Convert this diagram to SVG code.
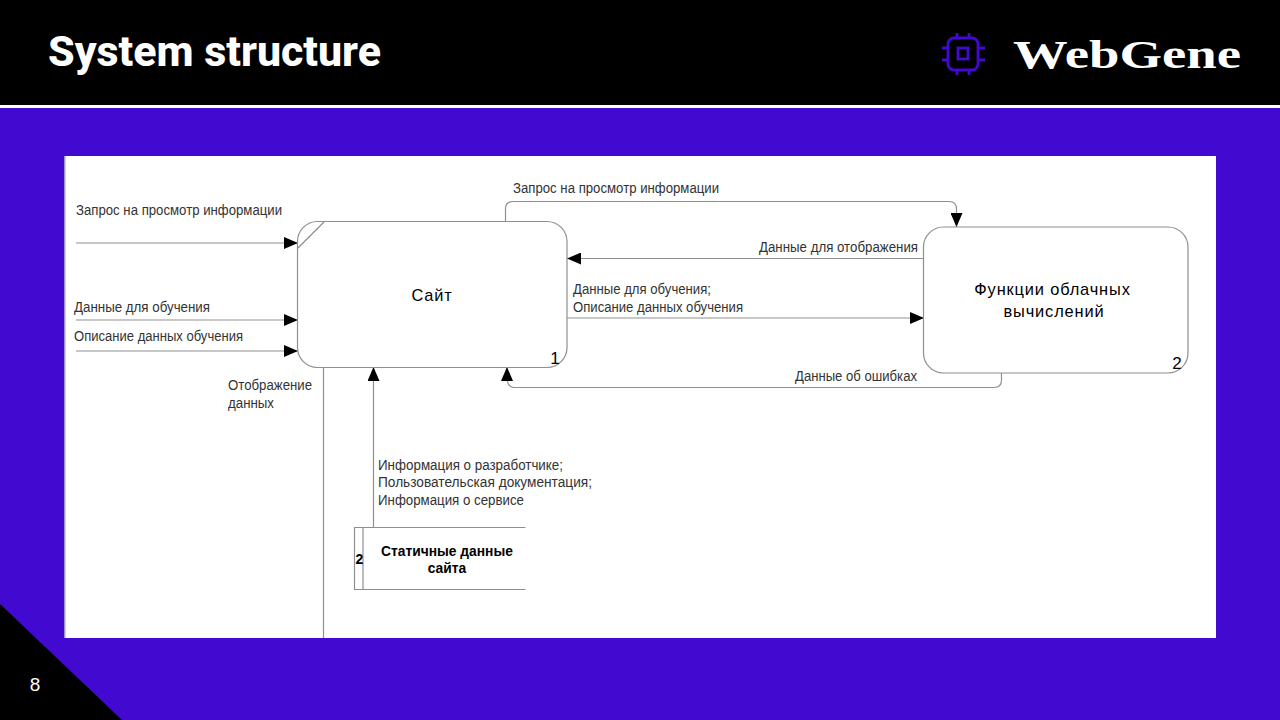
<svg xmlns="http://www.w3.org/2000/svg" width="1280" height="720" viewBox="0 0 1280 720">
<defs>
<marker id="arr" markerUnits="userSpaceOnUse" markerWidth="14" markerHeight="12" refX="14" refY="6" orient="auto"><path d="M0 0L14 6L0 12Z" fill="#000"/></marker>
</defs>
<style>
.l{font-family:"Liberation Sans",Arial,sans-serif;font-size:14px;fill:#333}
.n{font-family:"Liberation Sans",Arial,sans-serif;font-size:16.4px;fill:#000;letter-spacing:.85px;text-anchor:middle}
.c{fill:none;stroke:#8f8f8f;stroke-width:1.2}
.a{marker-end:url(#arr)}
.box{fill:#fff;stroke:#8f8f8f;stroke-width:1.2}
</style>
<rect width="1280" height="720" fill="#4209d0"/>
<g id="header">
<rect width="1280" height="105" fill="#000"/>
<rect y="105" width="1280" height="3" fill="#fff"/>
<text x="48" y="66" font-family="Roboto,sans-serif" font-weight="800" font-size="42.500" textLength="333" lengthAdjust="spacingAndGlyphs" fill="#fff">System structure</text>
<g id="logo-icon" fill="none" stroke="#4209d0" stroke-width="2.800">
<rect x="948" y="38" width="30" height="32" rx="6"/>
<rect x="958" y="48" width="10" height="11"/>
<path d="M957 33V38M969 33V38M957 70V75M969 70V75M942 48H948M942 60H948M978 48H985M978 60H985"/>
</g>
<text x="1013" y="68" font-family="'Liberation Serif',serif" font-weight="700" font-size="41" textLength="228" lengthAdjust="spacingAndGlyphs" fill="#fff">WebGene</text>
</g>
<path id="corner" d="M0 604L122 720H0Z" fill="#000"/>
<text x="35" y="691" font-family="'Liberation Sans',sans-serif" font-size="19" fill="#fff" text-anchor="middle">8</text>
<rect id="canvas" x="64.500" y="156" width="1151.500" height="482" fill="#fff"/>
<path d="M65 156V638" stroke="#a0a0a0" fill="none"/>
<g id="connectors">
<path class="c a" d="M76 243H298"/>
<path class="c a" d="M76 320H298"/>
<path class="c a" d="M76 351H298"/>
<path class="c" d="M323.500 367V638"/>
<path class="c a" d="M373.500 527V367"/>
<path class="c a" d="M505.500 222V209Q505.500 201.500 513 201.500H949Q956.500 201.500 956.500 209V227"/>
<path class="c a" d="M924 258.500H567"/>
<path class="c a" d="M567 318H924"/>
<path class="c a" d="M1001.500 373V380Q1001.500 387.500 994 387.500H514Q508.500 387.500 507 380L507 367"/>
</g>
<g id="node-site">
<rect class="box" x="297.500" y="221.500" width="269.500" height="146" rx="20"/>
<path class="c" d="M298 248L324 222"/>
<text class="n" x="432" y="301">Сайт</text>
<text x="555" y="364" font-family="'Liberation Sans',sans-serif" font-size="17" fill="#000" text-anchor="middle">1</text>
</g>
<g id="node-cloud">
<rect class="box" x="923.500" y="227" width="264.500" height="146" rx="20"/>
<text class="n" x="1052.500" y="295">Функции облачных</text>
<text class="n" x="1054" y="317">вычислений</text>
<text x="1177" y="369" font-family="'Liberation Sans',sans-serif" font-size="17" fill="#000" text-anchor="middle">2</text>
</g>
<g id="node-store">
<path class="c" d="M525.500 527.500H354.500V589.500H525.500M363 527.500V589.500"/>
<text x="359.500" y="564" font-family="'Liberation Sans',sans-serif" font-weight="700" font-size="14" fill="#000" text-anchor="middle">2</text>
<text x="447" y="556" font-family="'Liberation Sans',sans-serif" font-weight="700" font-size="13.800" fill="#000" text-anchor="middle">Статичные данные</text>
<text x="447" y="573" font-family="'Liberation Sans',sans-serif" font-weight="700" font-size="13.800" fill="#000" text-anchor="middle">сайта</text>
</g>
<g id="labels">
<text class="l" x="76" y="215" textLength="206" lengthAdjust="spacingAndGlyphs">Запрос на просмотр информации</text>
<text class="l" x="74" y="312" textLength="136" lengthAdjust="spacingAndGlyphs">Данные для обучения</text>
<text class="l" x="74" y="341" textLength="169" lengthAdjust="spacingAndGlyphs">Описание данных обучения</text>
<text class="l" x="228" y="390" textLength="84" lengthAdjust="spacingAndGlyphs">Отображение</text>
<text class="l" x="228" y="408" textLength="46" lengthAdjust="spacingAndGlyphs">данных</text>
<text class="l" x="513" y="193" textLength="206" lengthAdjust="spacingAndGlyphs">Запрос на просмотр информации</text>
<text class="l" x="759" y="252" textLength="159" lengthAdjust="spacingAndGlyphs">Данные для отображения</text>
<text class="l" x="573" y="294" textLength="138" lengthAdjust="spacingAndGlyphs">Данные для обучения;</text>
<text class="l" x="573" y="312" textLength="170" lengthAdjust="spacingAndGlyphs">Описание данных обучения</text>
<text class="l" x="795" y="381" textLength="122" lengthAdjust="spacingAndGlyphs">Данные об ошибках</text>
<text class="l" x="378" y="470" textLength="185" lengthAdjust="spacingAndGlyphs">Информация о разработчике;</text>
<text class="l" x="378" y="487" textLength="214" lengthAdjust="spacingAndGlyphs">Пользовательская документация;</text>
<text class="l" x="378" y="505" textLength="146" lengthAdjust="spacingAndGlyphs">Информация о сервисе</text>
</g>
</svg>
